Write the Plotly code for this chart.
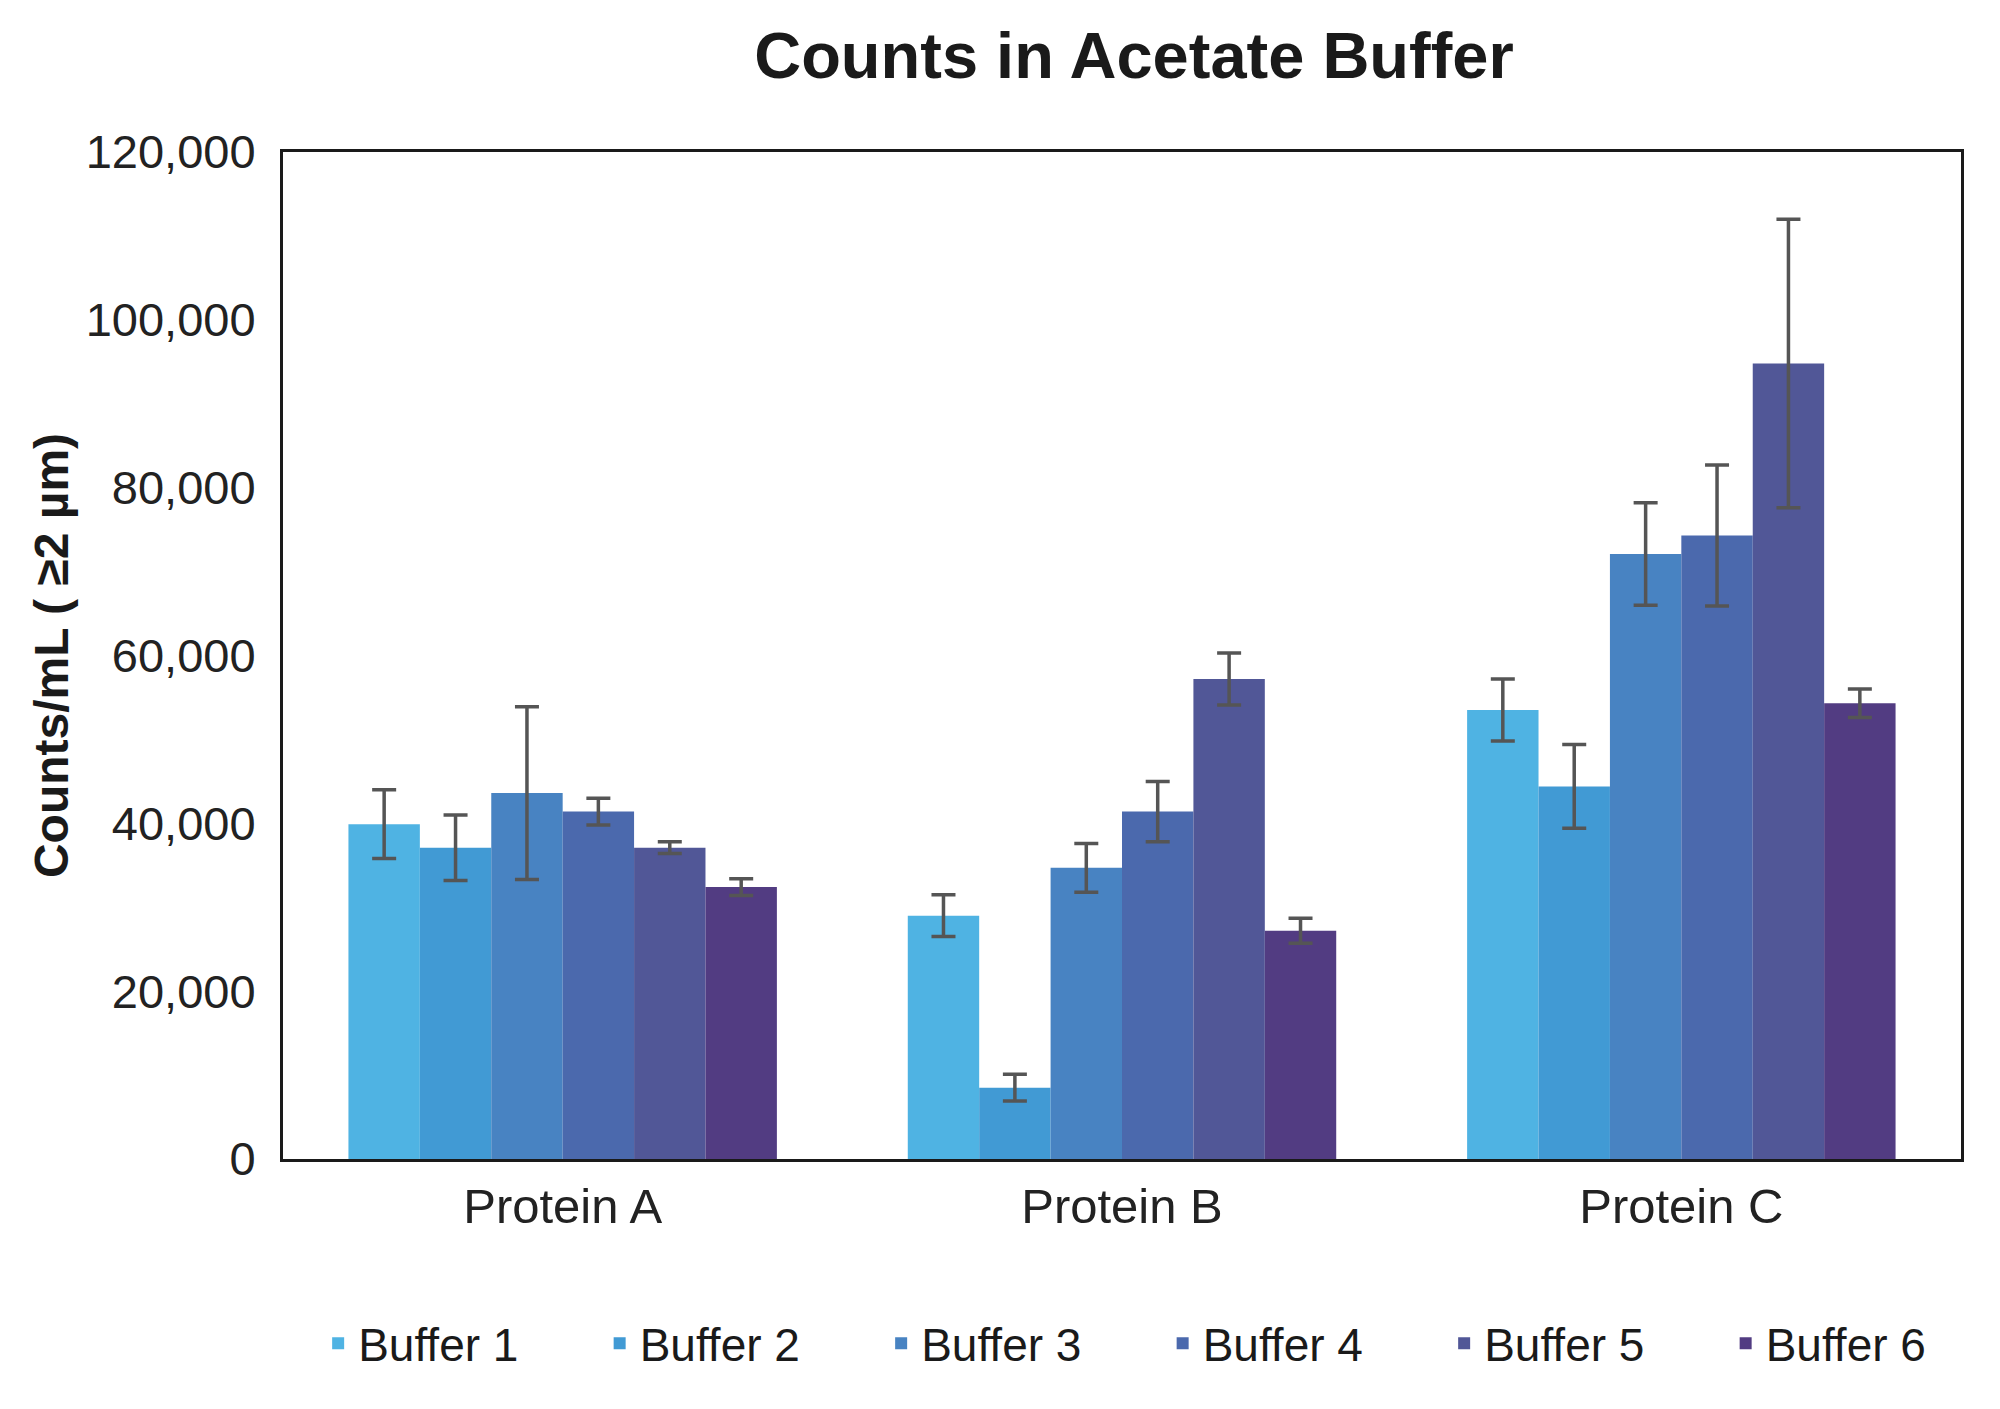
import plotly.graph_objects as go

proteins = ["Protein A", "Protein B", "Protein C"]
buffers = ["Buffer 1", "Buffer 2", "Buffer 3", "Buffer 4", "Buffer 5", "Buffer 6"]

# counts/mL per buffer, ordered Protein A, B, C
buffer1 = [39900, 29000, 53500]
buffer2 = [37100, 8500, 44400]
buffer3 = [43600, 34700, 72100]
buffer4 = [41400, 41400, 74300]
buffer5 = [37100, 57200, 94800]
buffer6 = [32400, 27200, 54300]

# error (+/-)
err1 = [4100, 2500, 3700]
err2 = [3900, 1600, 5000]
err3 = [10300, 2900, 6100]
err4 = [1600, 3600, 8400]
err5 = [700, 3100, 17200]
err6 = [1000, 1500, 1700]

values = [buffer1, buffer2, buffer3, buffer4, buffer5, buffer6]
errors = [err1, err2, err3, err4, err5, err6]
colors = ["#4FB3E3", "#419AD4", "#4883C2", "#4B69AD", "#515797", "#523C82"]

y_ticks = [0, 20000, 40000, 60000, 80000, 100000, 120000]

fig = go.Figure()
for name, vals, errs, col in zip(buffers, values, errors, colors):
    fig.add_trace(go.Bar(
        x=proteins, y=vals, name=name,
        marker=dict(color=col, line=dict(width=0)),
        error_y=dict(type="data", array=errs, visible=True,
                     color="#555555", thickness=3.5, width=12),
    ))

font_main = "Liberation Sans, Arial, sans-serif"

fig.update_layout(
    width=2000, height=1409,
    margin=dict(l=283, r=39, t=152, b=250, pad=0, autoexpand=False),
    paper_bgcolor="white", plot_bgcolor="white",
    barmode="group", bargap=0.234, bargroupgap=0,
    title=dict(text="<b>Counts in Acetate Buffer</b>",
               font=dict(family=font_main, size=65, color="#1a1a1a"),
               x=0.567, xanchor="center", y=0.961, yanchor="middle"),
    showlegend=True,
    legend=dict(orientation="h", x=1.0275, xanchor="right", y=-0.183, yanchor="middle",
                font=dict(family=font_main, size=46, color="#1a1a1a"),
                entrywidth=236.5, entrywidthmode="pixels",
                itemsizing="constant", traceorder="normal"),
    font=dict(family=font_main, color="#222222"),
)

fig.update_xaxes(
    showline=True, linecolor="#1a1a1a", linewidth=3, mirror=True,
    showgrid=False, ticks="", ticklabelstandoff=2,
    tickfont=dict(family=font_main, size=49, color="#222222"),
)
fig.update_yaxes(
    range=[0, 120000], tickvals=y_ticks, tickformat=",",
    showline=True, linecolor="#1a1a1a", linewidth=3, mirror=True,
    showgrid=False, zeroline=False, ticks="", ticklabelstandoff=15,
    tickfont=dict(family=font_main, size=47, color="#222222"),
    title=dict(text="<b>Counts/mL ( ≥2 µm)</b>", standoff=2,
               font=dict(family=font_main, size=48, color="#1a1a1a")),
)

fig.write_html("out.html")
